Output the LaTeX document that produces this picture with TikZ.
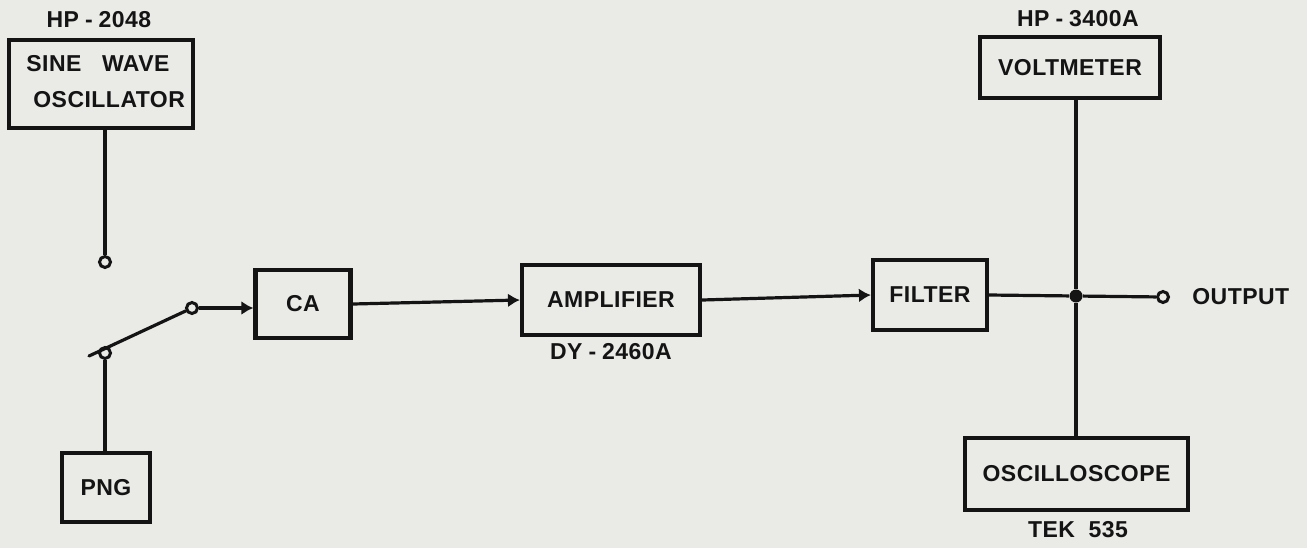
\documentclass[tikz,border=0pt]{standalone}
\usepackage{fontspec}
\setmainfont{Liberation Sans}[LetterSpace=2]
\usetikzlibrary{arrows.meta}
\definecolor{bg}{RGB}{234,234,231}
\definecolor{ink}{RGB}{20,20,20}
\newcommand{\hy}{\hspace{3pt}-\hspace{3pt}}
\tikzset{
  blk/.style={draw=ink, line width=2.1pt, rectangle, font=\bfseries\fontsize{11.5}{13}\selectfont, text=ink, inner sep=0pt},
  lbl/.style={font=\bfseries\fontsize{11.5}{13}\selectfont, text=ink, inner sep=0pt},
  wire/.style={draw=ink, line width=1.6pt},
  arr/.style={wire, -{Latex[length=6pt,width=7pt]}},
  term/.style={circle, draw=ink, line width=1.5pt, fill=bg, minimum size=5.5pt, inner sep=0pt},
  dot/.style={circle, fill=ink, minimum size=6.5pt, inner sep=0pt}
}
\begin{document}
\begin{tikzpicture}[x=0.5pt, y=-0.5pt]
\fill[bg] (0,0) rectangle (1307,548);
\useasboundingbox (0,0) rectangle (1307,548);

% blocks
\node[blk, minimum width=92pt, minimum height=44pt] (osc) at (101,84) {};
\node[lbl, anchor=west] (osct1) at (26,64) {SINE\ \ \ WAVE};
\node[lbl, anchor=west] (osct2) at (33,100) {OSCILLATOR};
\node[lbl] (oscl) at (99,20) {HP\hy 2048};
\node[blk, minimum width=44pt, minimum height=34.5pt] (png) at (106,487.5) {PNG};
\node[blk, minimum width=47.5pt, minimum height=34pt] (ca) at (303,304) {CA};
\node[blk, minimum width=89pt, minimum height=35pt] (amp) at (611,300) {AMPLIFIER};
\node[lbl] (ampl) at (611,352) {DY\hy 2460A};
\node[blk, minimum width=57pt, minimum height=35pt] (filt) at (930,295) {FILTER};
\node[blk, minimum width=90pt, minimum height=30.5pt] (volt) at (1070,67.5) {VOLTMETER};
\node[lbl] (voltl) at (1078,19) {HP\hy 3400A};
\node[blk, minimum width=111.5pt, minimum height=36pt] (scope) at (1076.5,474) {OSCILLOSCOPE};
\node[lbl] (scopel) at (1078,530) {TEK\ \ 535};

% switch terminals
\node[term] (t1) at (105,262) {};
\node[term] (t2) at (105,353) {};
\node[term] (t3) at (192,308) {};
\coordinate (bladeend) at (89,356);
\node[dot] (j) at (1076,296) {};
\node[term] (out) at (1163,297) {};
\node[lbl, anchor=west] (outl) at (1192,297) {OUTPUT};

% wires
\draw[wire] (osc.south -| t1) -- (t1);
\draw[wire] (png.north -| t2) -- (t2);
\draw[wire, line cap=round] (bladeend) -- (t3);
\draw[arr] (t3) -- (ca.west |- t3);
\draw[arr] (ca.east) -- (amp.west);
\draw[arr] (amp.east) -- (filt.west);
\draw[wire] (filt.east) -- (j) -- (out);
\draw[wire] (volt.south -| j) -- (j) -- (scope.north -| j);
\end{tikzpicture}
\end{document}
